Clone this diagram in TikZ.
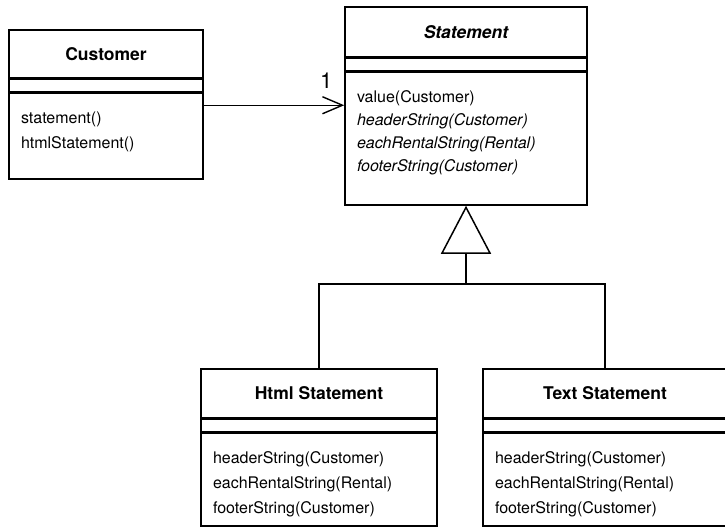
\documentclass[tikz,border=0pt]{standalone}
\usepackage{fontspec}
\setmainfont{TeX Gyre Heros}
\usetikzlibrary{positioning,arrows.meta}

\begin{document}
\begin{tikzpicture}[x=1pt,y=-1pt,
    classname/.style={draw,line width=1.5pt,minimum height=48pt,inner sep=0pt,font=\fontsize{17.5}{20}\selectfont\bfseries},
    attrs/.style={draw,line width=1.5pt,minimum height=12pt,inner sep=0pt,below=0pt of #1},
    ops/.style={draw,line width=1.5pt,below=0pt of #1,align=left,inner ysep=0pt,inner xsep=12pt,text height=30pt,font=\fontsize{16}{25}\selectfont},
    assoc/.style={line width=1.4pt,-{Straight Barb[length=20pt,width=17pt,line width=1.4pt]}},
    gen/.style={line width=1.5pt,-{Triangle[open,length=48pt,width=50pt,line width=1.5pt,fill=white]}},
    link/.style={line width=1.5pt}]
    % taille de l'image
    \useasboundingbox (0,0) rectangle (725,527);

    % Customer
    \node[classname,minimum width=194pt] (custname) at (106,54) {Customer};
    \node[attrs=custname,minimum width=194pt] (custattr) {};
    \node[ops=custattr,text width=170pt,text depth=56pt] (custops) {statement()\\htmlStatement()};

    % Statement (abstraite)
    \node[classname,minimum width=242pt,minimum height=50pt,font=\fontsize{17.5}{20}\selectfont\bfseries\itshape] (stmtname) at (466,32) {Statement};
    \node[attrs=stmtname,minimum width=242pt] (stmtattr) {};
    \node[ops=stmtattr,text width=218pt,text depth=103pt,font=\fontsize{16}{23}\selectfont] (stmtops)
        {value(Customer)\\\textit{headerString(Customer)}\\\textit{eachRentalString(Rental)}\\\textit{footerString(Customer)}};

    % Html Statement
    \node[classname,minimum width=236pt,minimum height=49pt] (htmlname) at (319,393.5) {Html Statement};
    \node[attrs=htmlname,minimum width=236pt] (htmlattr) {};
    \node[ops=htmlattr,text width=212pt,text depth=63pt] (htmlops)
        {headerString(Customer)\\eachRentalString(Rental)\\footerString(Customer)};

    % Text Statement
    \node[classname,minimum width=244pt,minimum height=49pt] (txtname) at (605,393.5) {Text Statement};
    \node[attrs=txtname,minimum width=244pt] (txtattr) {};
    \node[ops=txtattr,text width=220pt,text depth=63pt] (txtops)
        {headerString(Customer)\\eachRentalString(Rental)\\footerString(Customer)};

    % association
    \draw[assoc] ([yshift=-13pt]custops.north east) coordinate (assocstart) -- (assocstart -| stmtops.west) coordinate (assocend);
    \node[font=\fontsize{22}{22}\selectfont,inner sep=0pt] (mult) at ([xshift=-18pt,yshift=25pt]assocend) {1};

    % heritage
    \coordinate (fork) at (466,284);
    \draw[gen] (fork) -- (stmtops.south);
    \draw[link] (htmlname.north) |- (fork) -| (txtname.north);
\end{tikzpicture}
\end{document}
